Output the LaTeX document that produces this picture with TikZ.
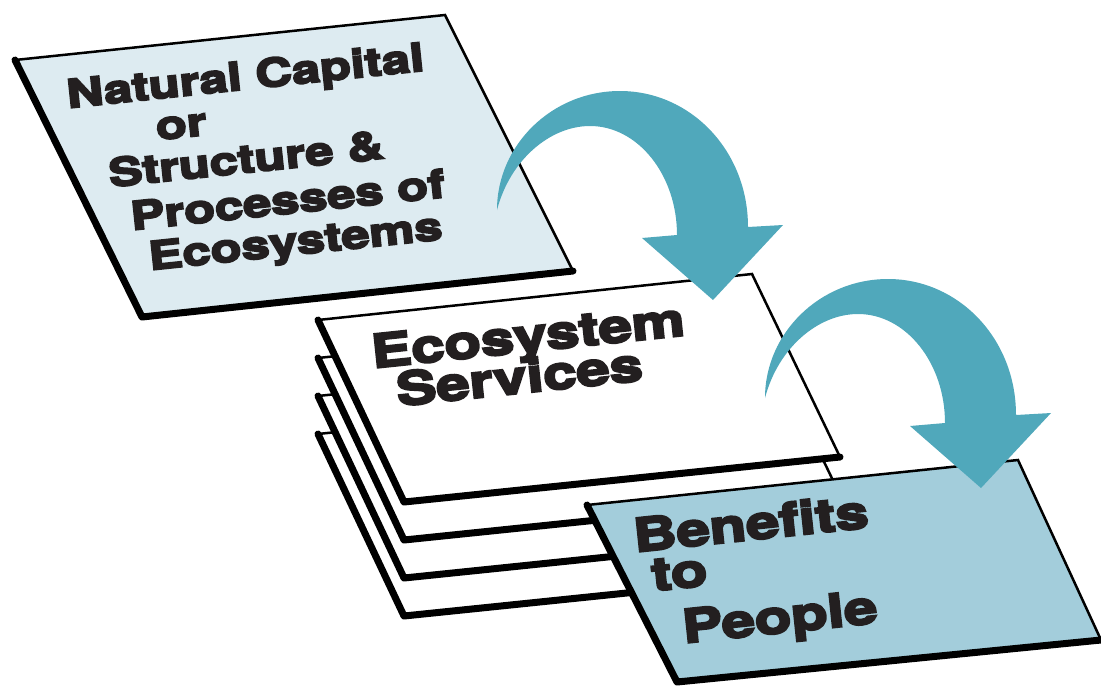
\documentclass[tikz,border=0pt]{standalone}
\usepackage{fontspec}
\usepackage{tikz}
\newfontfamily\heavyfont[FakeStretch=1.3,FakeBold=5]{TeX Gyre Heros Bold}
\definecolor{capital}{RGB}{221,235,241}
\definecolor{benefit}{RGB}{163,205,219}
\definecolor{flowteal}{RGB}{80,168,187}
\definecolor{ink}{RGB}{35,31,32}
\tikzset{
    thinedge/.style={line width=2.5pt, black, line join=miter},
    thickedge/.style={line width=7pt, black, line cap=round, line join=round},
    smalltext/.style={font=\heavyfont\fontsize{39}{40}\selectfont, text=ink,
        rotate=6, anchor=base west, inner sep=0pt},
    bigtext/.style={smalltext, font=\heavyfont\fontsize{46}{47}\selectfont}
}

\begin{document}
\begin{tikzpicture}[x=1pt, y=-1pt]
    \useasboundingbox (0,0) rectangle (1101,686);

    % Natural capital card
    \fill[capital] (15,60) -- (445,15) -- (573,271) -- (142,317) -- cycle;
    \draw[thinedge] (15,60) -- (445,15) -- (573,271);
    \draw[thickedge] (15,60) -- (142,317) -- (573,271);
    \node[smalltext] (nat) at (68,108) {Natural Capital};
    \node[smalltext] (orr) at (157,140) {or};
    \node[smalltext] (struct) at (110,187) {Structure \&};
    \node[smalltext] (proc) at (132,230) {Processes of};
    \node[smalltext] (ecos) at (150,270) {Ecosystems};

    % Stack of service cards (back to front)
    \foreach \k in {3,2,1,0} {
        \begin{scope}[shift={(0,{38*\k})}]
            \fill[white] (318,320) -- (752,274) -- (840,457) -- (404,502) -- cycle;
            \draw[thinedge] (318,320) -- (752,274) -- (840,457);
            \draw[thickedge] (318,320) -- (404,502) -- (840,457);
        \end{scope}
    }
    \node[bigtext] (ecoserv) at (373,368) {Ecosystem};
    \node[bigtext] (serv) at (398,406) {Services};

    % Benefits card
    \fill[benefit] (587,505) -- (1018,460) -- (1101,640) -- (677,682) -- cycle;
    \draw[thinedge] (587,505) -- (1018,460) -- (1101,640);
    \draw[thickedge] (587,505) -- (677,682) -- (1101,640);
    \node[bigtext] (ben) at (635,552) {Benefits};
    \node[bigtext] (to) at (653,591) {to};
    \node[bigtext] (people) at (684,643) {People};

    % Curved flow arrows
    \foreach \dx/\dy in {0/0, 268/188} {
        \begin{scope}[shift={(\dx,\dy)}]
            \fill[flowteal] (497,210) .. controls (497,145) and (552,91) .. (620,91)
                .. controls (690,91) and (748,150) .. (748,227)
                -- (783,225) -- (713,300) -- (642,238) -- (677,235)
                .. controls (677,175) and (638,126) .. (590,126)
                .. controls (550,126) and (510,160) .. (497,210) -- cycle;
        \end{scope}
    }
\end{tikzpicture}
\end{document}
